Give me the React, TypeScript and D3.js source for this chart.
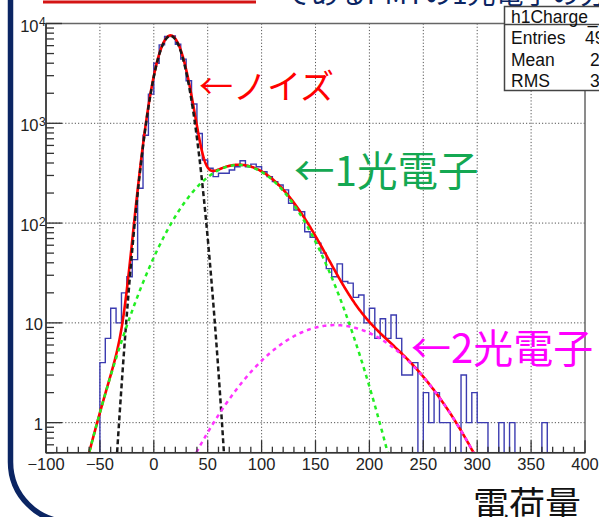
import React from "react";
import * as d3 from "d3";

// Histogram: 100 bins of width 5 from -100 to 400
const BIN_START = -100;
const BIN_WIDTH = 5;
const COUNTS = [
  0, 0, 0, 0, 0, 0, 0, 0, 0, 0,
  4, 7, 14, 10, 20, 29, 43, 223, 760, 1960,
  4000, 6100, 7400, 7500, 6200, 4400, 2670, 1560, 790, 429,
  354, 292, 316, 316, 340, 367, 422, 367, 390, 367,
  327, 292, 260, 241, 215, 158, 135, 130, 82, 72,
  63, 50, 35, 29, 39, 26, 25, 18, 19, 10,
  14, 7, 11, 7, 12, 7, 3, 3, 4, 0,
  2, 1, 2, 1, 1, 0, 0, 3, 1, 2,
  1, 1, 0, 0, 1, 0, 1, 0, 0, 0,
  0, 0, 1, 0, 0, 0, 0, 0, 0, 0,
];

// Gaussian fit parameters [amplitude, mean, sigma]
const NOISE_FIT = [7500, 15.5, 11.3];
const PE1_FIT = [382, 78.5, 38];
const PE2_FIT = [9.5, 168, 53];

const X_TICKS = [-100, -50, 0, 50, 100, 150, 200, 250, 300, 350, 400];
const X_TICK_LABELS = ["\u2212100", "\u221250", "0", "50", "100", "150", "200", "250", "300", "350", "400"];
const Y_DECADES = [1, 10, 100, 1000, 10000];
const Y_DECADE_LABELS = [["1", ""], ["10", ""], ["10", "2"], ["10", "3"], ["10", "4"]];

const STAT_NAMES = ["Entries", "Mean", "RMS"];
const STAT_VALUES = ["49", "2", "3"];

const gauss = (p: number[], x: number) => p[0] * Math.exp(-((x - p[1]) ** 2) / (2 * p[2] * p[2]));

export default function App() {
  const W = 599, H = 517;
  const left = 46, right = 585, top = 23.5, bottom = 452.7;
  const x = d3.scaleLinear().domain([-100, 400]).range([left, right]);
  const y = d3.scaleLog().domain([0.5, 10000]).range([bottom, top]);

  const ySafe = (v: number) => (v <= 0.5 ? bottom : y(v));

  const histPts: [number, number][] = COUNTS.map((c, i) => [BIN_START + i * BIN_WIDTH, c]);
  histPts.push([BIN_START + COUNTS.length * BIN_WIDTH, COUNTS[COUNTS.length - 1]]);
  const histPath = d3
    .line<[number, number]>()
    .x((d) => x(d[0]))
    .y((d) => ySafe(d[1]))
    .curve(d3.curveStepAfter)(histPts) as string;

  const xs = d3.range(-100, 400.01, 0.5);
  const curve = (f: (v: number) => number) =>
    d3
      .line<number>()
      .defined((v) => f(v) >= 0.42)
      .x((v) => x(v))
      .y((v) => y(Math.max(f(v), 0.3)))(xs) as string;

  const total = (v: number) => gauss(NOISE_FIT, v) + gauss(PE1_FIT, v) + gauss(PE2_FIT, v);

  const minorX = d3.range(-100, 401, 10).filter((v) => v % 50 !== 0);
  const minorY: number[] = [];
  [0.1, 1, 10, 100, 1000].forEach((d) => {
    for (let k = 2; k <= 9; k++) {
      const v = d * k;
      if (v >= 0.5 && v < 10000) minorY.push(v);
    }
  });

  const font = "'Liberation Sans', Arial, sans-serif";
  const jp = "'Noto Sans CJK JP', sans-serif";
  const grid = "#555";

  return (
    <svg
      width={W}
      height={H}
      style={{ position: "absolute", left: 0, top: 0, background: "#fff" }}
    >
      <defs>
        <clipPath id="frame">
          <rect x={left} y={top} width={right - left} height={bottom - top} />
        </clipPath>
      </defs>
      <rect width={W} height={H} fill="#fff" />

      {/* slide decorations */}
      <path d="M10.5,-5 V462 A60,60 0 0 0 70.5,522 H700" fill="none" stroke="#0b2563" strokeWidth={5.5} />
      <rect x={43} y={0.5} width={213} height={3} fill="#d41414" />
      <text x={283} y={4} fontFamily={jp} fontSize={28} fill="#0b2563">であるPMTの1光電子の分布</text>

      {/* grid */}
      <g stroke={grid} strokeWidth={1} strokeDasharray="1.2 2">
        {X_TICKS.slice(1, -1).map((t) => (
          <line key={"gx" + t} x1={x(t)} x2={x(t)} y1={top} y2={bottom} />
        ))}
        {Y_DECADES.slice(0, -1).map((t) => (
          <line key={"gy" + t} x1={left} x2={right} y1={y(t)} y2={y(t)} />
        ))}
      </g>

      <g clipPath="url(#frame)">
        <path d={histPath} fill="none" stroke="#3b3bb0" strokeWidth={1.4} />
        <path d={curve(total)} fill="none" stroke="#ff0000" strokeWidth={2.6} />
        <path d={curve((v) => gauss(NOISE_FIT, v))} fill="none" stroke="#1a1a1a" strokeWidth={2.5} strokeDasharray="5 3" />
        <path d={curve((v) => gauss(PE1_FIT, v))} fill="none" stroke="#22ee22" strokeWidth={2.5} strokeDasharray="4 4" />
        <path d={curve((v) => gauss(PE2_FIT, v))} fill="none" stroke="#ff33ff" strokeWidth={2.5} strokeDasharray="4 4" />
      </g>

      {/* frame */}
      <rect x={left} y={top} width={right - left} height={bottom - top} fill="none" stroke="#666" strokeWidth={1.5} />
      <line x1={left} x2={right} y1={bottom} y2={bottom} stroke="#333" strokeWidth={1.5} />
      <line x1={left} x2={left} y1={top} y2={bottom} stroke="#333" strokeWidth={1.5} />

      {/* ticks */}
      <g stroke="#333" strokeWidth={1.3}>
        {X_TICKS.map((t) => (
          <line key={"tx" + t} x1={x(t)} x2={x(t)} y1={bottom} y2={bottom - 12.5} />
        ))}
        {minorX.map((t) => (
          <line key={"mx" + t} x1={x(t)} x2={x(t)} y1={bottom} y2={bottom - 6} />
        ))}
        {Y_DECADES.map((t) => (
          <line key={"ty" + t} x1={left} x2={left + 16} y1={y(t)} y2={y(t)} />
        ))}
        {minorY.map((t) => (
          <line key={"my" + t} x1={left} x2={left + 8} y1={y(t)} y2={y(t)} />
        ))}
      </g>
      <g fontFamily={font} fontSize={16.5} fill="#222">
        {X_TICKS.map((t, i) => (
          <text key={"lx" + t} x={x(t)} y={470} textAnchor="middle">
            {X_TICK_LABELS[i]}
          </text>
        ))}
        {Y_DECADES.map((t, i) => {
          const [base, sup] = Y_DECADE_LABELS[i];
          return sup ? (
            <g key={"ly" + t}>
              <text x={38.5} y={y(t) + 8} textAnchor="end">{base}</text>
              <text x={39} y={y(t) + 2.5} fontSize={12}>{sup}</text>
            </g>
          ) : (
            <text key={"ly" + t} x={43} y={y(t) + 7.5} textAnchor="end">{base}</text>
          );
        })}
      </g>

      {/* annotations */}
      <text x={199} y={99} fontFamily={jp} fontSize={34} fill="#ff0000">←ノイズ</text>
      <text x={294} y={186} fontFamily={jp} fontSize={40.5} fill="#14a852">←1光電子</text>
      <text x={411} y={363} fontFamily={jp} fontSize={40} fill="#ff00ff">←2光電子</text>
      <text x={473} y={518} fontFamily={jp} fontSize={36} fill="#111">電荷量</text>

      {/* stats box */}
      <rect x={504.5} y={6.5} width={120} height={84} fill="#fff" stroke="#444" strokeWidth={1.5} />
      <line x1={504.5} x2={640} y1={24.5} y2={24.5} stroke="#444" strokeWidth={1.5} />
      <g fontFamily={font} fontSize={17.5} fill="#111">
        <text x={511} y={22.5}>h1Charge_</text>
        {STAT_NAMES.map((n, i) => (
          <text key={n} x={511} y={44 + i * 21.6}>{n}</text>
        ))}
        {STAT_VALUES.map((v, i) => (
          <text key={"v" + i} x={i === 0 ? 585 : 590} y={44 + i * 21.6}>{v}</text>
        ))}
      </g>
    </svg>
  );
}
